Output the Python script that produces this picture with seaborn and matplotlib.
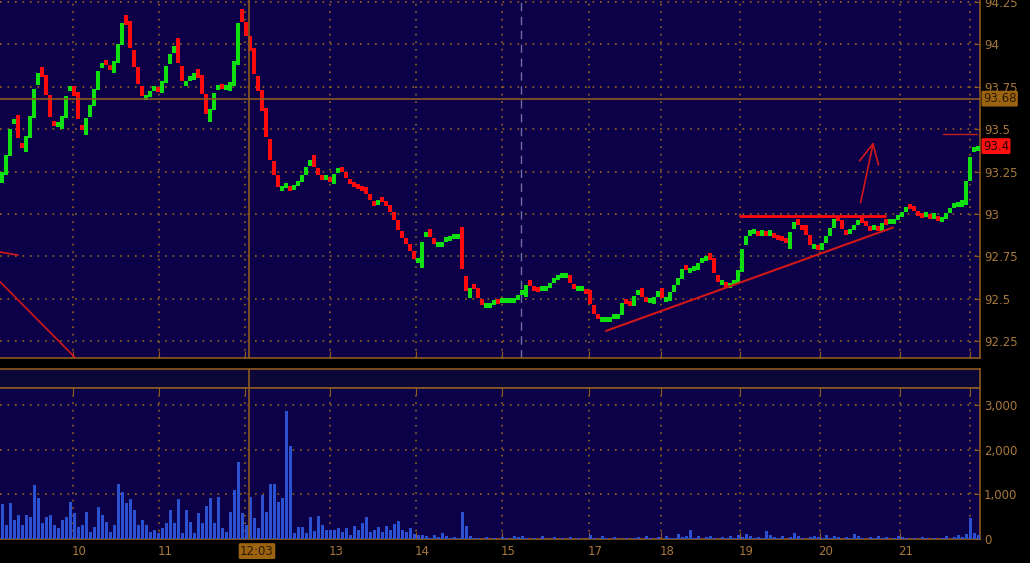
import matplotlib
matplotlib.use("Agg")
import matplotlib.pyplot as plt
import matplotlib.transforms as mtransforms
import numpy as np
import pandas as pd
import seaborn as sns

# closing prices, one bar per slot (left to right)
close = [
    93.26, 93.38, 93.54, 93.55, 93.41, 93.39, 93.48, 93.61, 93.78, 93.85,
    93.79, 93.67, 93.54, 93.52, 93.52, 93.60, 93.73, 93.74, 93.68, 93.52,
    93.49, 93.59, 93.66, 93.76, 93.87, 93.90, 93.87, 93.85, 93.92, 94.03,
    94.16, 94.10, 93.94, 93.84, 93.74, 93.68, 93.70, 93.73, 93.74, 93.73,
    93.80, 93.90, 93.96, 94.00, 93.85, 93.76, 93.79, 93.80, 93.84, 93.79,
    93.68, 93.56, 93.64, 93.74, 93.76, 93.74, 93.74, 93.79, 93.94, 94.19,
    94.11, 94.03, 93.94, 93.79, 93.70, 93.58, 93.41, 93.29, 93.21, 93.14,
    93.16, 93.16, 93.15, 93.17, 93.20, 93.24, 93.29, 93.33, 93.26, 93.22,
    93.21, 93.21, 93.19, 93.25, 93.27, 93.24, 93.20, 93.18, 93.17, 93.16,
    93.15, 93.11, 93.07, 93.06, 93.09, 93.07, 93.04, 93.00, 92.95, 92.89,
    92.85, 92.81, 92.77, 92.72, 92.72, 92.87, 92.90, 92.85, 92.81, 92.81,
    92.84, 92.85, 92.86, 92.86, 92.86, 92.61, 92.52, 92.58, 92.55, 92.49,
    92.45, 92.45, 92.47, 92.49, 92.48, 92.48, 92.48, 92.48, 92.50, 92.53,
    92.53, 92.60, 92.57, 92.56, 92.55, 92.55, 92.57, 92.60, 92.62, 92.63,
    92.63, 92.63, 92.58, 92.55, 92.55, 92.55, 92.53, 92.45, 92.40, 92.37,
    92.37, 92.37, 92.39, 92.39, 92.42, 92.49, 92.48, 92.47, 92.53, 92.55,
    92.50, 92.48, 92.48, 92.52, 92.55, 92.49, 92.50, 92.55, 92.59, 92.63,
    92.69, 92.66, 92.67, 92.68, 92.72, 92.73, 92.76, 92.72, 92.63, 92.59,
    92.59, 92.57, 92.59, 92.61, 92.69, 92.83, 92.88, 92.89, 92.89, 92.88,
    92.89, 92.88, 92.88, 92.87, 92.86, 92.85, 92.82, 92.92, 92.96, 92.93,
    92.92, 92.86, 92.80, 92.81, 92.80, 92.84, 92.88, 92.93, 92.98, 92.95,
    92.90, 92.89, 92.91, 92.94, 92.97, 92.95, 92.92, 92.91, 92.92, 92.91,
    92.96, 92.95, 92.95, 92.97, 92.99, 93.02, 93.05, 93.04, 93.01, 93.00,
    92.99, 92.99, 92.98, 92.98, 92.96, 92.98, 93.01, 93.04, 93.05, 93.05,
    93.09, 93.23, 93.37, 93.38, 93.41,
]
first_open = 93.20

volume = [
    780, 310, 800, 425, 540, 310, 540, 500, 1210, 910,
    350, 500, 540, 310, 240, 425, 500, 835, 575, 275,
    310, 610, 165, 275, 725, 540, 390, 165, 310, 1230,
    1060, 800, 895, 650, 310, 425, 310, 165, 200, 130,
    240, 350, 650, 350, 895, 130, 650, 390, 130, 575,
    350, 740, 910, 350, 950, 240, 165, 610, 1100, 1730,
    575, 310, 950, 460, 240, 985, 610, 1230, 1230, 835,
    910, 2870, 2080, 130, 275, 275, 130, 500, 180, 515,
    310, 200, 200, 200, 250,
    150, 250, 100, 300, 200, 350, 500, 150, 200, 260,
    150, 300, 200, 340, 410, 200, 150, 250, 120, 100, 80,
    60, 30, 80, 40, 140, 60, 30, 50, 20,
    600, 280, 60, 30,
    20, 0, 40, 10, 30, 0, 50, 20, 0, 60,
    40, 70, 20, 0, 30, 0, 60, 10, 0, 40,
    0, 20, 0, 50, 0, 30, 0, 0, 90, 30,
    0, 60, 20, 0, 40, 0, 0, 30, 0, 20,
    50, 0, 70, 20, 0, 40, 0, 60, 20, 30,
    110, 40, 60, 200, 30, 60, 0, 40, 70, 30,
    0, 50, 20, 60, 30, 90, 40, 110, 60, 30,
    50, 20, 175, 80, 40, 20, 60, 0, 50, 140,
    60, 30, 0, 50, 70, 40, 20, 80, 30, 60,
    40, 0, 50, 30, 110, 60, 20, 0, 40, 30,
    70, 20, 50, 0, 30, 60, 40, 20, 0, 30,
    0, 40, 20, 0, 30, 0, 20, 60, 10, 40,
    80, 40, 120, 470, 140, 90,
]

price_ticks = [92.25, 92.5, 92.75, 93.0, 93.25, 93.5, 93.75, 94.0, 94.25]
price_labels = ["92.25", "92.5", "92.75", "93", "93.25", "93.5", "93.75", "94", "94.25"]
vol_ticks = [0, 1000, 2000, 3000]
vol_labels = ["0", "1,000", "2,000", "3,000"]
day_pos = [18.25, 39.75, 61.25, 82.5, 104.0, 125.5, 147.25, 165.25, 185.0, 205.0, 225.0, 242.5]
day_labels = ["10", "11", "12", "13", "14", "15", "17", "18", "19", "20", "21", ""]

last_price = 93.4
cursor_price = 93.68
cursor_time = 62.25
cursor_label = "12:03"
session_break = 130.25

# hand-drawn annotations (time slot, price)
resistance = ([185.0, 221.25], [92.99, 92.99])
support = ([151.5, 223.25], [92.31, 92.92])
arrow_from = (215.0, 93.05)
arrow_to = (218.5, 93.44)
old_line_a = ([0.0, 18.75], [92.60, 92.153])
old_line_b = ([0.0, 4.5], [92.775, 92.757])
mark_line = ([235.75, 244.25], [93.47, 93.47])

n = min(len(close), len(volume))
close = np.array(close[:n])
opens = np.concatenate([[first_open], close[:-1]])
t = np.arange(n) + 0.5

BG = "#0c0048"
STRIP = "#0b0838"
BROWN = "#8c5a1e"
GRID = "#93651f"
TEXT = "#a8783a"
GREEN = "#10e010"
RED = "#ff0a0a"
BLUE = "#2b50d2"

sns.set_style("dark")
plt.rcParams["font.family"] = ["DejaVu Sans"]

W, H = 1030, 563
fig = plt.figure(figsize=(W / 100, H / 100), dpi=100, facecolor="black")
ax = fig.add_axes([0, 1 - 357.5 / H, 980 / W, 357.5 / H])
strip = fig.add_axes([0, 1 - 388 / H, 980 / W, 19 / H])
axv = fig.add_axes([0, 1 - 539 / H, 980 / W, 151 / H])

dots = (0, (1, 3.5))

# ---- price panel
ax.set_facecolor(BG)
min_body = 0.03
body = close - opens
body = np.where(np.abs(body) < min_body, np.where(body >= 0, min_body, -min_body), body)
colors = [GREEN if c >= o else RED for o, c in zip(opens, close)]
ax.bar(t, body, bottom=opens - body / 4, width=0.8, color=colors, linewidth=0, zorder=3)

ax.set_xlim(0, 245)
ax.set_ylim(92.153, 94.262)
ax.set_yticks(price_ticks)
ax.set_yticklabels(price_labels)
ax.set_xticks(day_pos)
ax.set_xticklabels([])
ax.yaxis.tick_right()
ax.tick_params(axis="y", direction="in", length=4, pad=3, colors=BROWN,
               labelcolor=TEXT, labelsize=8.5)
ax.tick_params(axis="x", direction="in", length=5, colors=BROWN, bottom=True)
ax.grid(True, color=GRID, linestyle=dots, linewidth=1.2)
for s in ["left", "top"]:
    ax.spines[s].set_visible(False)
for s in ["right", "bottom"]:
    ax.spines[s].set_color(BROWN)
    ax.spines[s].set_linewidth(1.2)

ax.axhline(cursor_price, color=BROWN, lw=1.2, zorder=4)
ax.axvline(cursor_time, color=BROWN, lw=1.2, zorder=4)
ax.axvline(session_break, color="#7070a0", lw=1, linestyle=(0, (6, 4)), zorder=2)

ax.plot(*resistance, color=RED, lw=2, zorder=5)
ax.plot(*support, color="#d01818", lw=1.5, zorder=5)
ax.plot(*old_line_a, color="#d01818", lw=1.2, zorder=5)
ax.plot(*old_line_b, color="#d01818", lw=1.2, zorder=5)
ax.plot(*mark_line, color="#c02020", lw=1, zorder=5)
ax.annotate("", xy=arrow_to, xytext=arrow_from,
            arrowprops=dict(arrowstyle="->,head_length=1.4,head_width=0.7",
                            color="#d01818", lw=1.2), zorder=5)

ytr = mtransforms.blended_transform_factory(ax.transAxes, ax.transData)
ax.text(1.003, cursor_price, "93.68", transform=ytr,
        ha="left", va="center", fontsize=8.5, color="#2a1800", zorder=10,
        bbox=dict(boxstyle="round,pad=0.12", fc="#9c6410", ec="none"), clip_on=False)
ax.text(1.003, last_price, "93.4", transform=ytr, ha="left", va="center",
        fontsize=8.5, color="#2a0000", zorder=10,
        bbox=dict(boxstyle="round,pad=0.12", fc="#ff1010", ec="none"), clip_on=False)

# ---- separator strip
strip.set_facecolor(STRIP)
strip.set_xlim(0, 245)
strip.set_xticks([])
strip.set_yticks([])
for s in strip.spines.values():
    s.set_color(BROWN)
    s.set_linewidth(1.2)
strip.spines["left"].set_visible(False)
strip.axvline(cursor_time, color=BROWN, lw=1.2)

# ---- volume panel
axv.set_facecolor(BG)
df = pd.DataFrame({"t": t, "volume": volume[:n]})
sns.barplot(data=df, x="t", y="volume", native_scale=True, orient="x",
            color=BLUE, saturation=1, width=0.75, errorbar=None, linewidth=0,
            ax=axv, zorder=3)
axv.set_xlim(0, 245)
axv.set_ylim(0, 3378)
axv.set_xlabel("")
axv.set_ylabel("")
axv.set_yticks(vol_ticks)
axv.set_yticklabels(vol_labels)
axv.set_xticks(day_pos)
axv.set_xticklabels([])
axv.yaxis.tick_right()
axv.tick_params(axis="y", direction="in", length=4, pad=3, colors=BROWN,
                labelcolor=TEXT, labelsize=8.5)
axv.tick_params(axis="x", direction="in", length=5, colors=BROWN,
                bottom=True, top=True)
axv.grid(True, color=GRID, linestyle=dots, linewidth=1.2)
axv.spines["left"].set_visible(False)
for s in ["right", "bottom", "top"]:
    axv.spines[s].set_color(BROWN)
    axv.spines[s].set_linewidth(1.2)
axv.axvline(cursor_time, color=BROWN, lw=1.2, zorder=4)

xtr = mtransforms.blended_transform_factory(axv.transData, axv.transAxes)
for p, lab in zip(day_pos, day_labels):
    axv.text(p + 1.5, -0.08, lab, transform=xtr, ha="center", va="center",
             fontsize=8.5, color=TEXT, clip_on=False)
axv.text(cursor_time + 2.0, -0.08, cursor_label, transform=xtr, ha="center",
         va="center", fontsize=8.5, color="#2a1800", zorder=10, clip_on=False,
         bbox=dict(boxstyle="round,pad=0.12", fc="#9c6410", ec="none"))

fig.savefig("out.png", dpi=100, facecolor="black")
